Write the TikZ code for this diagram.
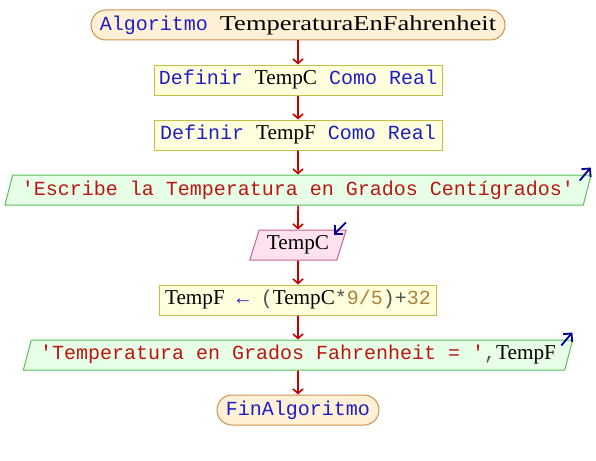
\documentclass[tikz,border=0pt]{standalone}
\usepackage{fontspec}
\setmonofont{Liberation Mono}
\newfontfamily\varfont[Scale=1.06]{Liberation Serif}
\newfontfamily\titlefont[FakeStretch=1.25,Scale=1.06]{Liberation Serif}
\usepackage{tikz}
\usetikzlibrary{arrows,arrows.meta,shapes.geometric}

\definecolor{termfill}{RGB}{255,240,214}
\definecolor{termline}{RGB}{205,145,75}
\definecolor{procfill}{RGB}{255,255,222}
\definecolor{procline}{RGB}{200,190,70}
\definecolor{outfill}{RGB}{230,255,230}
\definecolor{outline}{RGB}{90,190,90}
\definecolor{infill}{RGB}{255,225,240}
\definecolor{inline}{RGB}{200,100,140}
\definecolor{flowred}{RGB}{200,0,0}
\definecolor{ioblue}{RGB}{0,0,150}
\definecolor{kwblue}{RGB}{30,30,200}
\definecolor{strred}{RGB}{190,20,20}
\definecolor{numbrown}{RGB}{170,130,60}
\definecolor{opgray}{RGB}{80,80,80}

\newcommand{\kw}[1]{\textcolor{kwblue}{#1}}
\newcommand{\vname}[1]{{\varfont #1}}
\newcommand{\strtxt}[1]{\textcolor{strred}{#1}}
\newcommand{\numtxt}[1]{\textcolor{numbrown}{#1}}
\newcommand{\optxt}[1]{\textcolor{opgray}{#1}}

\begin{document}
\begin{tikzpicture}[x=1pt,y=-1pt,->,>={Straight Barb[length=4.5pt,width=10pt]},node distance=55pt,
    every node/.style={font=\ttfamily\fontsize{20}{24}\selectfont,inner sep=0pt,minimum height=30pt,line width=1pt},
    term/.style={draw=termline,fill=termfill,rounded corners=15pt},
    proc/.style={draw=procline,fill=procfill},
    outbox/.style={trapezium,trapezium left angle=68,trapezium right angle=112,trapezium stretches=true,draw=outline,fill=outfill},
    inbox/.style={trapezium,trapezium left angle=68,trapezium right angle=112,trapezium stretches=true,draw=inline,fill=infill},
    flow/.style={draw=flowred,line width=1.6pt},
    io/.style={draw=ioblue,line width=1.8pt,-{Straight Barb[length=6pt,width=12pt]}}]
  \useasboundingbox (0,0) rectangle (596,460);
  \node[term,minimum width=414pt] (start) at (298,25) {\kw{Algoritmo} {\titlefont TemperaturaEnFahrenheit}};
  \node[proc,minimum width=288pt] (defc) [below of=start] {\kw{Definir} \vname{TempC} \kw{Como Real}};
  \node[proc,minimum width=288pt] (deff) [below of=defc] {\kw{Definir} \vname{TempF} \kw{Como Real}};
  \node[outbox,minimum width=589pt] (ask) [below of=deff] {\strtxt{'Escribe la Temperatura en Grados Centígrados'}};
  \node[inbox,minimum width=97pt] (read) [below of=ask] {\vname{TempC}};
  \node[proc,minimum width=277pt] (calc) [below of=read] {\vname{TempF} \kw{←} \optxt{(}\vname{TempC}\optxt{*}\numtxt{9/5}\optxt{)+}\numtxt{32}};
  \node[outbox,minimum width=551pt] (show) [below of=calc] {\strtxt{'Temperatura en Grados Fahrenheit = '}\optxt{,}\vname{TempF}};
  \node[term,minimum width=162pt] (stop) [below of=show] {\kw{FinAlgoritmo}};
  % flujo
  \draw[flow] (start.south) -- (defc.north);
  \draw[flow] (defc.south) -- (deff.north);
  \draw[flow] (deff.south) -- (ask.north);
  \draw[flow] (ask.south) -- (read.north);
  \draw[flow] (read.south) -- (calc.north);
  \draw[flow] (calc.south) -- (show.north);
  \draw[flow] (show.south) -- (stop.north);
  % entrada / salida
  \draw[io] ([shift={(-12,6)}]ask.top right corner) -- ([shift={(-1,-7)}]ask.top right corner);
  \draw[io] ([shift={(-1,-7)}]read.top right corner) -- ([shift={(-13,5)}]read.top right corner);
  \draw[io] ([shift={(-12,6)}]show.top right corner) -- ([shift={(-1,-7)}]show.top right corner);
\end{tikzpicture}
\end{document}
